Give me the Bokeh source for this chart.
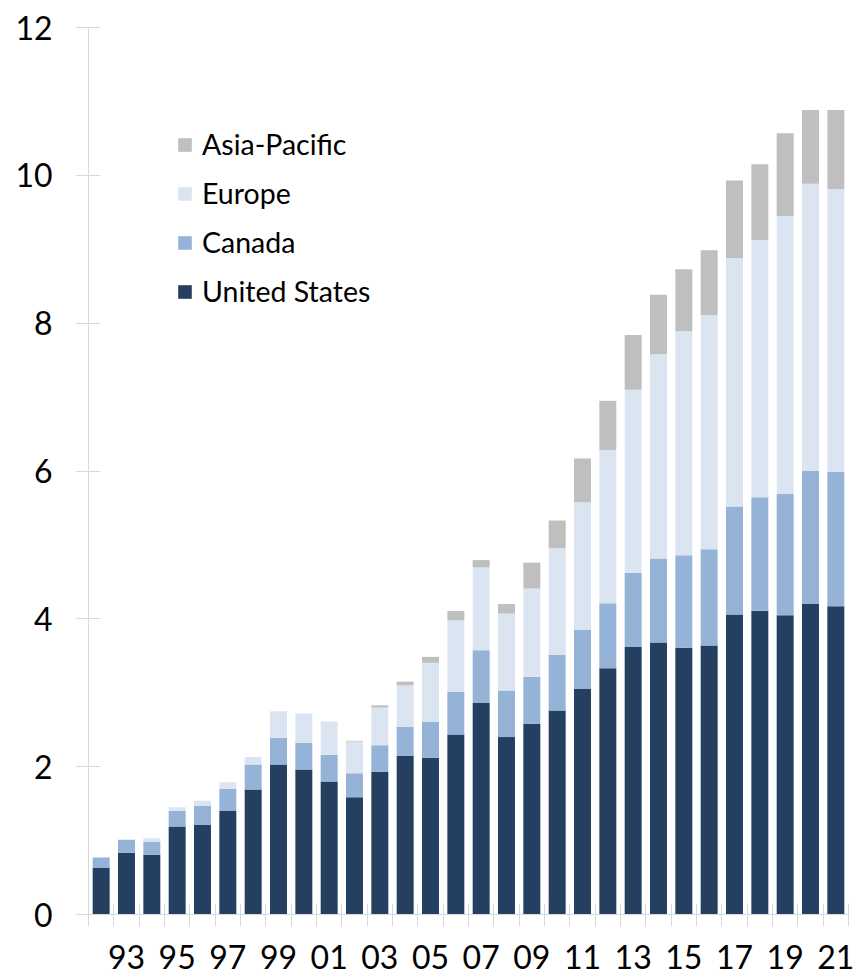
from bokeh.plotting import figure
from bokeh.models import Range1d, FixedTicker, Legend, LegendItem, ColumnDataSource
from bokeh.embed import file_html
from bokeh.resources import INLINE

years = list(range(1992, 2022))
united_states = [0.63, 0.835, 0.81, 1.19, 1.21, 1.40, 1.69, 2.03, 1.96, 1.80,
                 1.585, 1.93, 2.145, 2.12, 2.435, 2.86, 2.40, 2.58, 2.76, 3.05,
                 3.33, 3.62, 3.68, 3.61, 3.64, 4.06, 4.11, 4.05, 4.20, 4.17]
canada = [0.14, 0.175, 0.17, 0.21, 0.26, 0.30, 0.34, 0.36, 0.365, 0.36,
          0.325, 0.36, 0.395, 0.485, 0.575, 0.715, 0.63, 0.635, 0.755, 0.80,
          0.88, 1.00, 1.135, 1.25, 1.30, 1.46, 1.535, 1.64, 1.80, 1.815]
europe = [0.0, 0.0, 0.05, 0.05, 0.07, 0.09, 0.10, 0.36, 0.395, 0.45,
          0.43, 0.51, 0.56, 0.80, 0.97, 1.12, 1.04, 1.195, 1.44, 1.725,
          2.075, 2.48, 2.765, 3.03, 3.17, 3.36, 3.48, 3.76, 3.885, 3.83]
asia_pacific = [0.0, 0.0, 0.0, 0.0, 0.0, 0.0, 0.0, 0.0, 0.0, 0.0,
                0.01, 0.03, 0.05, 0.08, 0.125, 0.10, 0.13, 0.35, 0.375, 0.595,
                0.665, 0.74, 0.805, 0.84, 0.875, 1.05, 1.025, 1.12, 1.00, 1.07]
series_names = ["United States", "Canada", "Europe", "Asia-Pacific"]
colors = ["#243F60", "#95B3D7", "#DBE5F1", "#BFBFBF"]
y_ticks = [0, 2, 4, 6, 8, 10, 12]
label_years = [y for y in years if y % 2 == 1]
x_labels = {y: f"{y % 100:02d}" for y in label_years}

src = ColumnDataSource(dict(year=years, us=united_states, ca=canada, eu=europe, ap=asia_pacific))

FONT = "Lato"
p = figure(width=856, height=976, output_backend="svg", toolbar_location=None,
           x_range=Range1d(years[0] - 0.5, years[-1] + 0.5), y_range=Range1d(0, 12),
           min_border_left=88, min_border_right=8, min_border_top=27, min_border_bottom=62)
p.outline_line_color = None
p.xgrid.grid_line_color = None
p.ygrid.grid_line_color = None
p.background_fill_color = "white"
p.border_fill_color = "white"

rs = p.vbar_stack(["us", "ca", "eu", "ap"], x="year", width=0.67, color=colors,
                  line_color=None, source=src)

axis_color = "#D9D9D9"
# y axis
p.yaxis.ticker = FixedTicker(ticks=y_ticks)
p.yaxis.axis_line_color = axis_color
p.yaxis.major_tick_line_color = axis_color
p.yaxis.major_tick_in = 12
p.yaxis.major_tick_out = 12
p.yaxis.minor_tick_line_color = None
p.yaxis.major_label_standoff = 24
p.yaxis.major_label_text_font = FONT
p.yaxis.major_label_text_font_size = "32px"
p.yaxis.major_label_text_color = "black"

# x axis
boundaries = [y - 0.5 for y in years] + [years[-1] + 0.5]
p.xaxis.ticker = FixedTicker(ticks=label_years, minor_ticks=boundaries)
p.xaxis.major_label_overrides = x_labels
p.xaxis.axis_line_color = axis_color
p.xaxis.major_tick_line_color = None
p.xaxis.major_tick_in = 0
p.xaxis.major_tick_out = 0
p.xaxis.minor_tick_line_color = axis_color
p.xaxis.minor_tick_in = 11
p.xaxis.minor_tick_out = 12
p.xaxis.major_label_standoff = 18
p.xaxis.major_label_text_font = FONT
p.xaxis.major_label_text_font_size = "32px"
p.xaxis.major_label_text_color = "black"

items = [LegendItem(label=n, renderers=[r]) for n, r in zip(series_names, rs)][::-1]
legend = Legend(items=items, location=(88, 606), orientation="vertical",
                glyph_width=17, glyph_height=17, label_height=30, spacing=15,
                label_standoff=9, padding=0, margin=0,
                border_line_color=None, background_fill_alpha=0,
                label_text_font=FONT, label_text_font_size="28.5px",
                label_text_color="black")
p.add_layout(legend, "center")

open("out.html", "w").write(file_html(p, INLINE))
